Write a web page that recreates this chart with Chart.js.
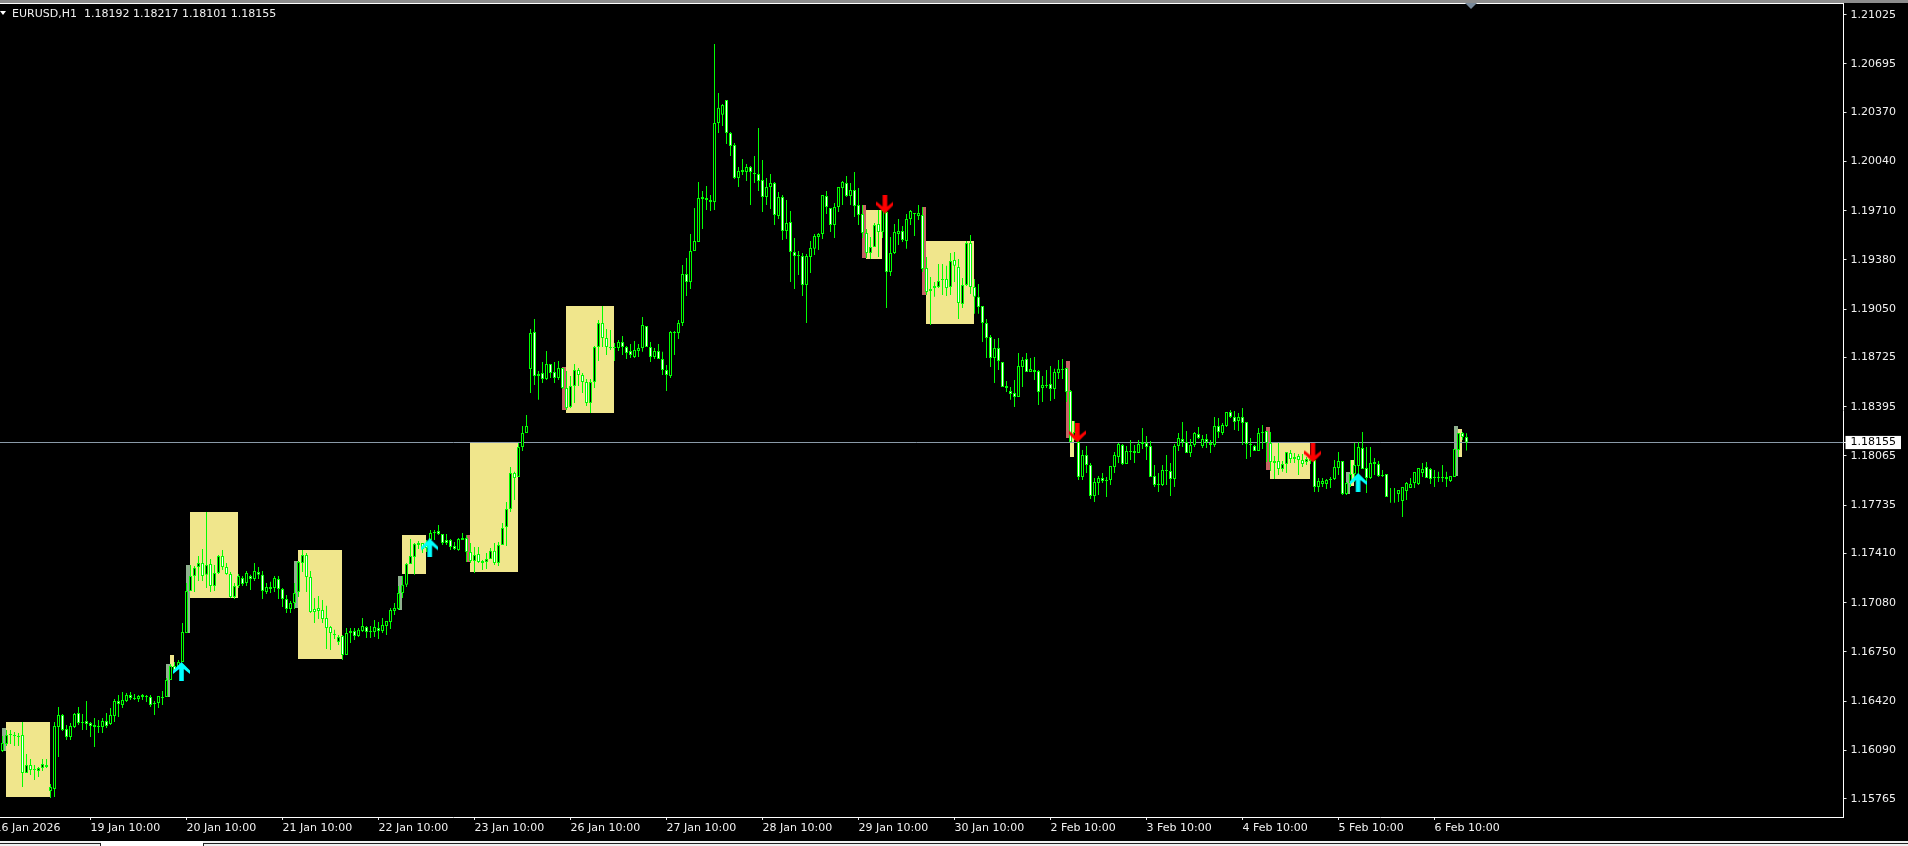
<!DOCTYPE html>
<html><head><meta charset="utf-8">
<style>
html,body{margin:0;padding:0;background:#000;width:1908px;height:846px;overflow:hidden;position:relative}
canvas{position:absolute;left:-10px;top:0}
.o{position:absolute}
</style>
<script src="https://cdn.jsdelivr.net/npm/chart.js@4"></script>
</head><body>
<canvas id="c" width="1918" height="846"></canvas>
<div class="o" style="left:0;top:0;width:1908px;height:3px;background:#8c8c8c"></div>
<div class="o" style="left:0;top:3px;width:1844px;height:1px;background:#fff"></div>
<div class="o" style="left:0;top:11px;width:0;height:0;border-left:3px solid transparent;border-right:3px solid transparent;border-top:4px solid #fff"></div>
<div class="o" style="left:1465px;top:3px;width:0;height:0;border-left:6px solid transparent;border-right:6px solid transparent;border-top:6px solid #778899"></div>
<div class="o" id="hdr" style="left:12px;top:7px;color:#f0f0f0;font:11px 'DejaVu Sans';white-space:pre;line-height:13px">EURUSD,H1  1.18192 1.18217 1.18101 1.18155</div>
<div class="o" style="left:0;top:841px;width:1908px;height:5px;background:#f0f0f0"></div>
<div class="o" style="left:0;top:843px;width:100px;height:3px;border-top:1px solid #222;border-right:1px solid #222;background:#f0f0f0"></div>
<div class="o" style="left:101px;top:841px;width:102px;height:5px;background:#fff"></div>
<div class="o" style="left:203px;top:843px;width:1705px;height:3px;border-top:1px solid #222;border-left:1px solid #222;background:#f0f0f0"></div>
<script>
const currentPrice = 1.18155;
const yTickValues = [1.21025,1.20695,1.20370,1.20040,1.19710,1.19380,1.19050,1.18725,1.18395,1.18065,1.17735,1.17410,1.17080,1.16750,1.16420,1.16090,1.15765];
const xTickIndex = [-2,22,46,70,94,118,142,166,190,214,238,262,286,310,334,358];
const xTickLabels = ["16 Jan 2026","19 Jan 10:00","20 Jan 10:00","21 Jan 10:00","22 Jan 10:00","23 Jan 10:00","26 Jan 10:00","27 Jan 10:00","28 Jan 10:00","29 Jan 10:00","30 Jan 10:00","2 Feb 10:00","3 Feb 10:00","4 Feb 10:00","5 Feb 10:00","6 Feb 10:00"];

const highs = [
1.16186,1.16227,1.16227,1.16213,1.16206,1.16280,1.16066,1.16032,1.15992,1.15978,
1.16032,1.16032,1.15864,1.16280,1.16381,1.16334,1.16260,1.16274,1.16341,1.16381,
1.16334,1.16421,1.16280,1.16307,1.16294,1.16307,1.16341,1.16374,1.16435,1.16461,
1.16482,1.16475,1.16482,1.16468,1.16461,1.16468,1.16461,1.16461,1.16421,1.16455,
1.16488,1.16575,1.16669,1.16683,1.16696,1.16944,1.17213,1.17334,1.17327,1.17394,
1.17441,1.17689,1.17374,1.17334,1.17401,1.17434,1.17347,1.17287,1.17213,1.17273,
1.17260,1.17293,1.17267,1.17347,1.17320,1.17293,1.17213,1.17220,1.17260,1.17260,
1.17179,1.17132,1.17092,1.17213,1.17360,1.17434,1.17414,1.17293,1.17112,1.17126,
1.17099,1.17059,1.16924,1.16898,1.16864,1.16864,1.16911,1.16911,1.16911,1.16911,
1.16978,1.16924,1.16924,1.16965,1.16951,1.16978,1.16958,1.17045,1.17079,1.17193,
1.17260,1.17347,1.17508,1.17481,1.17495,1.17481,1.17501,1.17568,1.17568,1.17602,
1.17542,1.17542,1.17508,1.17488,1.17515,1.17548,1.17535,1.17481,1.17454,1.17454,
1.17367,1.17414,1.17448,1.17481,1.17488,1.17615,1.17756,1.17991,1.17958,1.18152,
1.18266,1.18340,1.18917,1.18984,1.18635,1.18695,1.18769,1.18682,1.18695,1.18702,
1.18655,1.18635,1.18601,1.18682,1.18655,1.18622,1.18581,1.18581,1.18803,1.18977,
1.19071,1.18917,1.18910,1.18823,1.18843,1.18870,1.18803,1.18816,1.18836,1.18816,
1.18997,1.18937,1.18830,1.18789,1.18816,1.18763,1.18675,1.18903,1.18903,1.18977,
1.19346,1.19393,1.19554,1.19729,1.19903,1.19843,1.19876,1.19816,1.20829,1.20500,
1.20426,1.20453,1.20238,1.20165,1.20004,1.20057,1.20024,1.20010,1.20077,1.20265,
1.20051,1.19930,1.19957,1.19903,1.19836,1.19816,1.19782,1.19708,1.19527,1.19440,
1.19427,1.19420,1.19507,1.19554,1.19561,1.19816,1.19843,1.19729,1.19762,1.19869,
1.19910,1.19943,1.19896,1.19970,1.19863,1.19749,1.19588,1.19534,1.19628,1.19715,
1.19729,1.19715,1.19534,1.19621,1.19655,1.19608,1.19688,1.19715,1.19695,1.19749,
1.19735,1.19400,1.19266,1.19232,1.19353,1.19353,1.19340,1.19427,1.19433,1.19386,
1.19259,1.19507,1.19547,1.19252,1.19219,1.19071,1.18984,1.18877,1.18850,1.18856,
1.18695,1.18568,1.18528,1.18575,1.18756,1.18729,1.18756,1.18722,1.18729,1.18642,
1.18601,1.18642,1.18669,1.18649,1.18709,1.18716,1.18655,1.18508,1.18300,1.18192,
1.18105,1.18132,1.18018,1.17917,1.17931,1.17951,1.17924,1.17998,1.18092,1.18152,
1.18145,1.18132,1.18172,1.18139,1.18172,1.18253,1.18199,1.18165,1.18004,1.17951,
1.18004,1.18071,1.18018,1.18145,1.18219,1.18293,1.18232,1.18179,1.18226,1.18259,
1.18206,1.18212,1.18172,1.18326,1.18320,1.18286,1.18360,1.18373,1.18367,1.18353,
1.18387,1.18293,1.18186,1.18139,1.18253,1.18273,1.18232,1.18226,1.18065,1.18152,
1.18031,1.18092,1.18105,1.18085,1.18078,1.18078,1.18058,1.18065,1.18038,1.17917,
1.17917,1.17910,1.17924,1.18038,1.18092,1.18031,1.17890,1.18038,1.18152,1.18159,
1.18226,1.18125,1.18125,1.18051,1.18031,1.17971,1.17944,1.17850,1.17850,1.17817,
1.17837,1.17890,1.17917,1.17917,1.17978,1.18018,1.18025,1.17984,1.17971,1.17958,
1.18004,1.17958,1.17931,1.18112,1.18219,1.18226,1.18217];

const lows = [
1.16079,1.16119,1.16133,1.16119,1.16119,1.15844,1.15938,1.15925,1.15891,1.15911,
1.15952,1.15972,1.15770,1.15777,1.16045,1.16220,1.16160,1.16160,1.16240,1.16260,
1.16227,1.16227,1.16180,1.16113,1.16206,1.16206,1.16240,1.16260,1.16280,1.16314,
1.16374,1.16414,1.16428,1.16428,1.16414,1.16428,1.16414,1.16381,1.16327,1.16374,
1.16394,1.16448,1.16562,1.16629,1.16656,1.16683,1.16877,1.17159,1.17152,1.17226,
1.17226,1.17179,1.17152,1.17159,1.17273,1.17300,1.17267,1.17112,1.17105,1.17179,
1.17193,1.17193,1.17166,1.17226,1.17240,1.17105,1.17139,1.17146,1.17152,1.17105,
1.17052,1.17012,1.17012,1.17038,1.17119,1.17287,1.17152,1.17012,1.16944,1.16971,
1.16944,1.16770,1.16763,1.16837,1.16797,1.16696,1.16730,1.16810,1.16830,1.16851,
1.16884,1.16844,1.16844,1.16851,1.16837,1.16877,1.16864,1.16904,1.16998,1.17032,
1.17112,1.17186,1.17340,1.17267,1.17441,1.17414,1.17421,1.17468,1.17501,1.17535,
1.17468,1.17468,1.17434,1.17434,1.17428,1.17501,1.17354,1.17347,1.17280,1.17347,
1.17300,1.17307,1.17374,1.17334,1.17327,1.17468,1.17461,1.17689,1.17770,1.17924,
1.18098,1.18219,1.18487,1.18541,1.18441,1.18555,1.18575,1.18588,1.18555,1.18575,
1.18514,1.18373,1.18387,1.18420,1.18534,1.18487,1.18400,1.18353,1.18521,1.18702,
1.18796,1.18742,1.18776,1.18702,1.18769,1.18742,1.18716,1.18722,1.18722,1.18729,
1.18763,1.18796,1.18695,1.18716,1.18716,1.18608,1.18501,1.18588,1.18742,1.18850,
1.18937,1.19138,1.19185,1.19440,1.19500,1.19588,1.19715,1.19708,1.19715,1.20232,
1.20279,1.20158,1.20077,1.19923,1.19869,1.19950,1.19910,1.19749,1.19896,1.19843,
1.19702,1.19749,1.19722,1.19615,1.19655,1.19514,1.19521,1.19232,1.19185,1.19279,
1.19138,1.18957,1.19292,1.19413,1.19447,1.19521,1.19688,1.19568,1.19527,1.19702,
1.19749,1.19802,1.19749,1.19668,1.19615,1.19527,1.19393,1.19386,1.19467,1.19400,
1.19527,1.19058,1.19272,1.19420,1.19480,1.19500,1.19454,1.19615,1.19541,1.19648,
1.19299,1.19145,1.18944,1.19132,1.19192,1.19145,1.19138,1.19145,1.19232,1.18984,
1.19058,1.19205,1.19152,1.19018,1.19018,1.18830,1.18722,1.18662,1.18555,1.18642,
1.18528,1.18494,1.18441,1.18394,1.18461,1.18528,1.18628,1.18628,1.18575,1.18407,
1.18427,1.18521,1.18434,1.18447,1.18581,1.18581,1.18427,1.18159,1.18172,1.17904,
1.17904,1.17951,1.17776,1.17756,1.17803,1.17884,1.17790,1.17870,1.17951,1.18018,
1.18004,1.18011,1.18038,1.18018,1.18085,1.18112,1.18038,1.17924,1.17857,1.17823,
1.17864,1.17870,1.17796,1.17857,1.18098,1.18125,1.18085,1.18058,1.18125,1.18179,
1.18118,1.18118,1.18085,1.18125,1.18186,1.18206,1.18259,1.18320,1.18239,1.18232,
1.18139,1.18045,1.18058,1.18098,1.18105,1.18112,1.18025,1.17964,1.17910,1.17937,
1.17958,1.17951,1.18018,1.18018,1.17937,1.17991,1.18004,1.18011,1.17823,1.17823,
1.17857,1.17843,1.17850,1.17904,1.17937,1.17803,1.17803,1.17857,1.17890,1.17904,
1.17978,1.17817,1.17910,1.17937,1.17924,1.17924,1.17803,1.17750,1.17750,1.17756,
1.17656,1.17770,1.17850,1.17850,1.17870,1.17924,1.17958,1.17877,1.17857,1.17890,
1.17890,1.17857,1.17890,1.17924,1.18058,1.18172,1.18101];

const opens = [
1.16086,1.16133,1.16200,1.16193,1.16186,1.16193,1.15938,1.15992,1.15965,1.15952,
1.15972,1.15978,1.15817,1.15831,1.16247,1.16327,1.16233,1.16180,1.16247,1.16341,
1.16280,1.16287,1.16274,1.16260,1.16253,1.16247,1.16287,1.16267,1.16321,1.16421,
1.16394,1.16421,1.16461,1.16441,1.16435,1.16461,1.16455,1.16448,1.16408,1.16408,
1.16441,1.16448,1.16562,1.16656,1.16649,1.16683,1.16877,1.17159,1.17260,1.17320,
1.17347,1.17267,1.17340,1.17193,1.17280,1.17394,1.17320,1.17273,1.17119,1.17193,
1.17246,1.17213,1.17260,1.17240,1.17287,1.17267,1.17152,1.17186,1.17179,1.17240,
1.17173,1.17105,1.17038,1.17079,1.17152,1.17347,1.17401,1.17253,1.17038,1.17045,
1.17032,1.16978,1.16917,1.16871,1.16817,1.16857,1.16730,1.16891,1.16891,1.16857,
1.16891,1.16917,1.16891,1.16884,1.16911,1.16891,1.16924,1.16951,1.17025,1.17038,
1.17146,1.17200,1.17340,1.17387,1.17481,1.17481,1.17468,1.17501,1.17555,1.17562,
1.17542,1.17501,1.17501,1.17461,1.17434,1.17515,1.17515,1.17421,1.17360,1.17407,
1.17360,1.17354,1.17374,1.17428,1.17347,1.17468,1.17588,1.17709,1.17951,1.17924,
1.18125,1.18219,1.18648,1.18897,1.18615,1.18622,1.18581,1.18682,1.18628,1.18588,
1.18655,1.18521,1.18394,1.18534,1.18642,1.18608,1.18561,1.18420,1.18561,1.18796,
1.18957,1.18856,1.18796,1.18796,1.18789,1.18830,1.18796,1.18769,1.18729,1.18769,
1.18789,1.18937,1.18796,1.18729,1.18769,1.18716,1.18642,1.18601,1.18897,1.18890,
1.18957,1.19286,1.19232,1.19440,1.19500,1.19802,1.19796,1.19782,1.19769,1.20299,
1.20353,1.20453,1.20232,1.20151,1.19930,1.19983,1.19970,1.20004,1.19963,1.19957,
1.19916,1.19802,1.19869,1.19896,1.19675,1.19802,1.19574,1.19635,1.19433,1.19413,
1.19407,1.19212,1.19400,1.19454,1.19534,1.19554,1.19809,1.19729,1.19615,1.19735,
1.19863,1.19896,1.19809,1.19849,1.19749,1.19688,1.19561,1.19427,1.19467,1.19621,
1.19568,1.19702,1.19299,1.19427,1.19554,1.19574,1.19507,1.19655,1.19695,1.19675,
1.19682,1.19326,1.19185,1.19192,1.19199,1.19252,1.19252,1.19199,1.19380,1.19333,
1.19085,1.19212,1.19494,1.19199,1.19132,1.19071,1.18957,1.18863,1.18722,1.18789,
1.18695,1.18534,1.18501,1.18487,1.18461,1.18662,1.18715,1.18628,1.18642,1.18635,
1.18521,1.18541,1.18548,1.18514,1.18622,1.18648,1.18655,1.18501,1.18192,1.18159,
1.17924,1.18071,1.18004,1.17796,1.17884,1.17917,1.17904,1.17904,1.17991,1.18058,
1.18139,1.18011,1.18098,1.18098,1.18085,1.18159,1.18152,1.18132,1.17931,1.17877,
1.17870,1.17971,1.17964,1.17910,1.18132,1.18179,1.18159,1.18085,1.18139,1.18212,
1.18132,1.18179,1.18152,1.18139,1.18266,1.18219,1.18266,1.18360,1.18326,1.18300,
1.18326,1.18293,1.18145,1.18132,1.18098,1.18226,1.18232,1.18152,1.18031,1.18031,
1.17978,1.18011,1.18085,1.18045,1.18065,1.18038,1.18025,1.18045,1.18038,1.17857,
1.17877,1.17877,1.17910,1.17910,1.17984,1.18031,1.17810,1.17884,1.17944,1.17998,
1.18118,1.17984,1.17917,1.18025,1.18011,1.17937,1.17944,1.17810,1.17763,1.17810,
1.17763,1.17830,1.17850,1.17884,1.17877,1.17951,1.17991,1.17978,1.17924,1.17924,
1.17924,1.17910,1.17897,1.17924,1.18105,1.18219,1.18192];

const closes = [
1.16139,1.16193,1.16193,1.16186,1.16180,1.15938,1.15992,1.15958,1.15958,1.15972,
1.15999,1.15992,1.15844,1.16253,1.16327,1.16227,1.16180,1.16253,1.16334,1.16274,
1.16274,1.16267,1.16253,1.16247,1.16247,1.16287,1.16253,1.16327,1.16421,1.16401,
1.16428,1.16461,1.16441,1.16435,1.16455,1.16448,1.16448,1.16394,1.16401,1.16455,
1.16448,1.16562,1.16656,1.16629,1.16683,1.16884,1.17159,1.17260,1.17314,1.17347,
1.17260,1.17334,1.17193,1.17280,1.17394,1.17320,1.17273,1.17119,1.17193,1.17260,
1.17206,1.17280,1.17240,1.17293,1.17267,1.17159,1.17186,1.17173,1.17246,1.17173,
1.17105,1.17038,1.17079,1.17146,1.17354,1.17401,1.17253,1.17018,1.17018,1.17025,
1.16971,1.16911,1.16877,1.16864,1.16851,1.16730,1.16877,1.16877,1.16857,1.16898,
1.16924,1.16884,1.16884,1.16917,1.16891,1.16931,1.16958,1.17032,1.17045,1.17146,
1.17200,1.17340,1.17394,1.17475,1.17468,1.17441,1.17448,1.17548,1.17548,1.17542,
1.17481,1.17481,1.17454,1.17441,1.17508,1.17501,1.17421,1.17360,1.17401,1.17354,
1.17347,1.17374,1.17428,1.17347,1.17468,1.17582,1.17709,1.17951,1.17917,1.18125,
1.18219,1.18266,1.18890,1.18601,1.18601,1.18581,1.18682,1.18622,1.18588,1.18655,
1.18521,1.18387,1.18534,1.18642,1.18608,1.18561,1.18420,1.18561,1.18796,1.18957,
1.18856,1.18796,1.18789,1.18789,1.18830,1.18796,1.18756,1.18742,1.18776,1.18789,
1.18944,1.18796,1.18729,1.18769,1.18716,1.18642,1.18608,1.18897,1.18890,1.18957,
1.19286,1.19232,1.19440,1.19507,1.19796,1.19789,1.19782,1.19769,1.20299,1.20400,
1.20420,1.20232,1.20144,1.19930,1.19977,1.19970,1.20004,1.19970,1.19957,1.19910,
1.19802,1.19869,1.19896,1.19682,1.19802,1.19574,1.19628,1.19433,1.19407,1.19407,
1.19212,1.19407,1.19460,1.19541,1.19554,1.19816,1.19735,1.19615,1.19735,1.19869,
1.19903,1.19809,1.19849,1.19742,1.19682,1.19561,1.19427,1.19467,1.19615,1.19568,
1.19715,1.19299,1.19427,1.19568,1.19574,1.19514,1.19655,1.19708,1.19688,1.19695,
1.19319,1.19165,1.19172,1.19205,1.19239,1.19246,1.19192,1.19373,1.19340,1.19091,
1.19212,1.19494,1.19199,1.19132,1.19064,1.18957,1.18856,1.18722,1.18789,1.18702,
1.18528,1.18521,1.18481,1.18461,1.18668,1.18709,1.18628,1.18648,1.18628,1.18494,
1.18541,1.18534,1.18514,1.18628,1.18649,1.18642,1.18494,1.18159,1.18226,1.17924,
1.18071,1.18004,1.17796,1.17890,1.17917,1.17897,1.17897,1.17998,1.18071,1.18145,
1.18011,1.18098,1.18092,1.18085,1.18145,1.18145,1.18125,1.17924,1.17870,1.17870,
1.17971,1.17964,1.17910,1.18132,1.18186,1.18159,1.18085,1.18139,1.18219,1.18186,
1.18179,1.18159,1.18139,1.18266,1.18226,1.18273,1.18360,1.18326,1.18293,1.18326,
1.18286,1.18145,1.18139,1.18098,1.18219,1.18219,1.18152,1.18025,1.18018,1.17977,
1.18011,1.18092,1.18045,1.18058,1.18038,1.18011,1.18045,1.18031,1.17857,1.17897,
1.17897,1.17904,1.17904,1.17991,1.18031,1.17810,1.17884,1.17944,1.18004,1.18125,
1.17977,1.17917,1.18018,1.18011,1.17931,1.17931,1.17790,1.17810,1.17763,1.17837,
1.17857,1.17884,1.17877,1.17957,1.17984,1.17977,1.17917,1.17910,1.17917,1.17917,
1.17917,1.17924,1.17931,1.18112,1.18219,1.18192,1.18155];

// Highlight zones: first/last bar index and price range
const yellowFrom = [1,47,74,100,117,141,216,231,317,42,267,337,364];
const yellowTo   = [12,59,85,106,129,153,220,243,327,43,268,338,365];
const yellowTop  = [1.16280,1.17689,1.17434,1.17535,1.18152,1.19071,1.19715,1.19507,1.18152,1.16730,1.18300,1.18038,1.18246];
const yellowBot  = [1.15777,1.17112,1.16703,1.17273,1.17287,1.18353,1.19386,1.18950,1.17910,1.16649,1.18058,1.17864,1.18058];
const greyFrom = [0,41,46,73,99,336,363];
const greyTop  = [1.16240,1.16669,1.17334,1.17360,1.17260,1.17957,1.18266];
const greyBot  = [1.16086,1.16448,1.16877,1.17045,1.17032,1.17810,1.17931];
const redFrom = [116,140,215,230,266,316];
const redTop  = [1.17535,1.18662,1.19749,1.19735,1.18702,1.18259];
const redBot  = [1.17354,1.18373,1.19393,1.19145,1.18186,1.17971];

const upArrowX = [44.75,106.8,338.9];
const upArrowY = [1.16619,1.17448,1.17887];
const downArrowX = [220.6,268.7,327.6];
const downArrowY = [1.19755,1.18219,1.18085];

const GREEN = '#00ff00';
const barIdx = highs.map((_, i) => i);

function arrowImage(color, up) {
  const c = document.createElement('canvas');
  c.width = 17; c.height = 19;
  const g = c.getContext('2d');
  if (!up) { g.translate(0, 19); g.scale(1, -1); }
  g.fillStyle = color;
  g.beginPath();
  [[8.5,0],[17,8.5],[17,12],[10.8,7],[10.8,19],[6.2,19],[6.2,7],[0,12],[0,8.5]].forEach((p, i) => i ? g.lineTo(p[0], p[1]) : g.moveTo(p[0], p[1]));
  g.closePath(); g.fill();
  return c;
}

function box(from, to, top, bot, color, order) {
  return { type:'line', data:[{x:from-0.125,y:top},{x:to-0.125,y:top}], fill:{value:bot},
    backgroundColor:color, borderColor:'transparent', borderWidth:0, pointRadius:0, order };
}

const datasets = [];
yellowFrom.forEach((f, i) => datasets.push(box(f, yellowTo[i], yellowTop[i], yellowBot[i], '#f0e68c', 10)));
greyFrom.forEach((f, i) => datasets.push(box(f, f+1, greyTop[i], greyBot[i], '#8fb08f', 9)));
redFrom.forEach((f, i) => datasets.push(box(f, f+1, redTop[i], redBot[i], '#c46464', 9)));
datasets.push({ type:'line', data:[{x:-3.125,y:currentPrice},{x:460.25,y:currentPrice}], borderColor:'#8a9aa8', borderWidth:1, pointRadius:0, order:5 });
datasets.push({ type:'bar', grouped:false, barThickness:1, data:barIdx.map(i => ({x:i, y:[lows[i], highs[i]]})),
  backgroundColor:GREEN, borderWidth:0, inflateAmount:0, order:3 });
datasets.push({ type:'bar', grouped:false, barThickness:3, data:barIdx.map(i => ({x:i, y:[opens[i], closes[i]]})),
  backgroundColor:barIdx.map(i => closes[i] >= opens[i] ? '#000000' : '#ffffff'),
  borderColor:GREEN, borderWidth:1, borderSkipped:false, inflateAmount:0, order:2 });
datasets.push({ type:'scatter', data:upArrowX.map((x, i) => ({x, y:upArrowY[i]})), pointStyle:arrowImage('#00ffff', true), pointRadius:9, order:1 });
datasets.push({ type:'scatter', data:downArrowX.map((x, i) => ({x, y:downArrowY[i]})), pointStyle:arrowImage('#ff0000', false), pointRadius:9, order:1 });

new Chart(document.getElementById('c'), {
  type:'bar',
  data:{ datasets },
  options:{
    responsive:false, animation:false, devicePixelRatio:1,
    layout:{ autoPadding:false, padding:{ top:3, left:0, right:0, bottom:0 } },
    plugins:{ legend:{display:false}, tooltip:{enabled:false}, title:{display:false} },
    events:[],
    scales:{
      x:{ type:'linear', min:-3.125, max:460.25, offset:false,
        afterBuildTicks:s => { s.ticks = xTickIndex.map(v => ({value:v})); },
        afterFit:s => { s.height = 29; s.paddingLeft = 0; s.paddingRight = 0; },
        border:{ color:'#ffffff', width:1 },
        grid:{ offset:false, drawOnChartArea:false, drawTicks:true, tickLength:3, tickColor:'#e8e8e8' },
        ticks:{ autoSkip:false, maxRotation:0, minRotation:0, align:'start', padding:2, color:'#f0f0f0',
          font:{ family:"'DejaVu Sans'", size:11 },
          callback:v => xTickLabels[xTickIndex.indexOf(v)] }
      },
      y:{ type:'linear', position:'right', min:1.156426, max:1.211035, beginAtZero:false,
        afterBuildTicks:s => { s.ticks = yTickValues.concat([currentPrice]).map(v => ({value:v})); },
        afterFit:s => { s.width = 64.5; s.paddingTop = 0; s.paddingBottom = 0; },
        border:{ color:'#ffffff', width:1 },
        grid:{ drawOnChartArea:false, drawTicks:true, tickLength:3, tickColor:'#e8e8e8' },
        ticks:{ autoSkip:false, padding:4, font:{ family:"'DejaVu Sans'", size:11 },
          color:c => c.tick.value === currentPrice ? '#000000' : '#f0f0f0',
          showLabelBackdrop:true,
          backdropColor:c => c.tick.value === currentPrice ? '#ffffff' : 'rgba(0,0,0,0)',
          backdropPadding:{ left:5, right:5, top:0, bottom:0 },
          callback:v => v.toFixed(5) }
      }
    }
  }
});
</script>
</body></html>
